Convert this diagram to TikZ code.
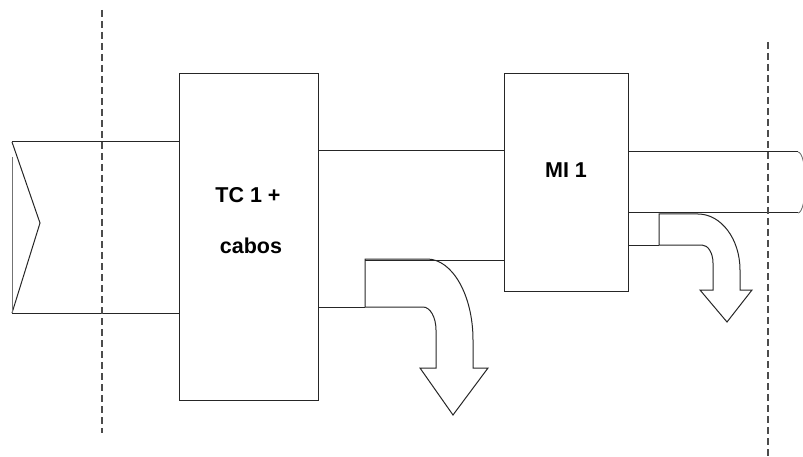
\documentclass[tikz,border=0pt]{standalone}
\usepackage{fontspec}
\setmainfont{Liberation Sans}
\begin{document}
\begin{tikzpicture}[x=1pt,y=1pt,
  ln/.style={draw=black!85,line width=1pt},
  thinln/.style={draw=black!55,line width=0.9pt},
  box/.style={ln,rectangle,inner sep=0pt,fill=white},
  lbl/.style={inner sep=0pt,anchor=base,font=\fontsize{21.5}{25}\selectfont\bfseries},
  dashln/.style={draw=black!70,line width=1.3pt,dash pattern=on 7pt off 4pt}]
\clip (0,0) rectangle (803,-457);
\useasboundingbox (0,0) rectangle (803,-457);
% dashed boundaries
\coordinate (d1a) at (102,-10);
\coordinate (d1b) at (102,-433);
\coordinate (d2a) at (768,-42);
\coordinate (d2b) at (768,-457);
% boxes
\node[box,minimum width=139pt,minimum height=326pt] (tc) at (248.5,-237) {};
\node[box,minimum width=124pt,minimum height=217pt] (mi) at (566,-182.5) {};
\node[lbl] (tctext) at (248,-203) {TC 1 +};
\node[lbl] (cabos) at (251,-254) {cabos};
\node[lbl] (mitext) at (566,-178) {MI 1};
% left cable end
\coordinate (lt) at (12,-142);
\coordinate (lm) at (40,-223);
\coordinate (lb) at (12,-313);
\coordinate (lv) at (12,-157);
\draw[ln] (lt) -- (lm) -- (lb);
\draw[thinln] (lv) -- (lb);
\draw[ln] (lt) -- (lt -| tc.west);
\draw[ln] (lb) -- (lb -| tc.west);
% TC to MI
\coordinate (c1) at (318,-151);
\draw[ln] (tc.east |- c1) -- (mi.west |- c1);
\coordinate (c2) at (365,-260);
\draw[ln] (c2) -- (mi.west |- c2);
\coordinate (c3) at (365,-307);
\draw[ln] (tc.east |- c3) -- (c3);
% MI right cable
\coordinate (rt) at (798,-152);
\coordinate (rb) at (798,-213);
\draw[ln] (mi.east |- rt) -- (rt);
\draw[ln] (mi.east |- rb) -- (rb);
\draw[thinln] (rt) arc[start angle=90,end angle=-90,x radius=7.4,y radius=30.5];
\coordinate (c4) at (659,-245);
\draw[ln] (mi.east |- c4) -- (c4);
% arrow 1
\draw[ln,line join=miter] (c3) -- (365,-259) -- (427,-259)
  arc[start angle=90,end angle=0,x radius=46,y radius=81]
  -- (473,-368) -- (488,-368) -- (453,-415) -- (420,-368) -- (436,-368) -- (436,-330)
  arc[start angle=0,end angle=90,x radius=13,y radius=23] -- cycle;
% arrow 2
\draw[ln,line join=miter] (c4) -- (659,-214) -- (698,-214)
  arc[start angle=90,end angle=0,x radius=42,y radius=56]
  -- (740,-290) -- (752,-290) -- (727,-322) -- (700,-290) -- (713,-290) -- (713,-263)
  arc[start angle=0,end angle=90,x radius=11,y radius=18] -- cycle;
% dashed lines
\draw[dashln] (d1a) -- (d1b);
\draw[dashln] (d2a) -- (d2b);
\end{tikzpicture}
\end{document}
